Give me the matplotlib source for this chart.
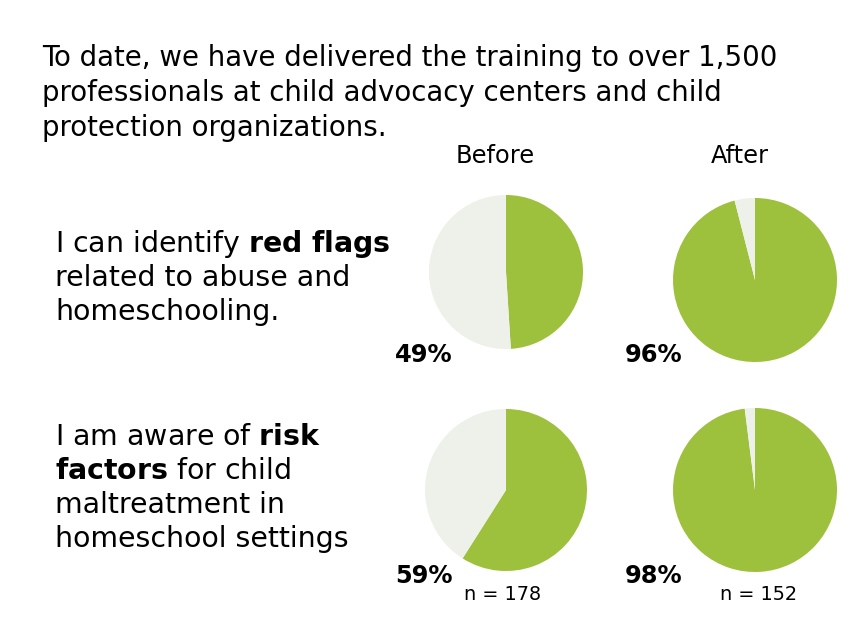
import matplotlib.pyplot as plt

# data
title_lines = ["To date, we have delivered the training to over 1,500",
               "professionals at child advocacy centers and child",
               "protection organizations."]
question_lines = [
    [r"I can identify $\mathbf{red\ flags}$", "related to abuse and", "homeschooling."],
    [r"I am aware of $\mathbf{risk}$", r"$\mathbf{factors}$ for child",
     "maltreatment in", "homeschool settings"],
]
before_pct = [49, 59]
after_pct = [96, 98]
n_counts = [178, 152]
col_labels = ["Before", "After"]

GREEN = "#9dc13c"
GRAY = "#eef0ea"

W, H = 867, 620
plt.rcParams['font.family'] = ['DejaVu Sans']
plt.rcParams['mathtext.fontset'] = 'dejavusans'

fig = plt.figure(figsize=(W / 100, H / 100), dpi=100)
fig.patch.set_facecolor("white")
renderer = fig.canvas.get_renderer()


def put(x, y, s, **kw):
    kw.setdefault("va", "baseline")
    return fig.text(x / W, 1 - y / H, s, **kw)


def fit_size(s, target_w, base=20, **kw):
    t = fig.text(0, 0, s, fontsize=base, **kw)
    w = t.get_window_extent(renderer).width
    t.remove()
    return base * target_w / w


# title block
fs_title = fit_size(title_lines[0], 736)
for i, line in enumerate(title_lines):
    put(42, 66 + 35 * i, line, fontsize=fs_title, color="black")

# question blocks
fs_q = fit_size(question_lines[1][3], 293)
q_base = [252, 445]
for q, lines in enumerate(question_lines):
    for i, line in enumerate(lines):
        put(55, q_base[q] + 34 * i, line, fontsize=fs_q, color="black")

# column headers
put(495, 163, col_labels[0], fontsize=fs_q * 0.85, ha="center")
put(740, 163, col_labels[1], fontsize=fs_q * 0.85, ha="center")

# pies: (cx, cy, r) in pixels
pie_geo = {
    (0, 0): (506, 272, 77), (0, 1): (755, 280, 82),
    (1, 0): (506, 490, 81), (1, 1): (755, 490, 82),
}
pct_pos = {(0, 0): (395, 362), (0, 1): (625, 362),
           (1, 0): (395, 583), (1, 1): (625, 583)}

for q in range(2):
    for c, vals in enumerate([before_pct, after_pct]):
        v = vals[q]
        cx, cy, r = pie_geo[(q, c)]
        ax = fig.add_axes([(cx - r) / W, 1 - (cy + r) / H, 2 * r / W, 2 * r / H])
        ax.pie([v, 100 - v], colors=[GREEN, GRAY], startangle=90,
               counterclock=False, wedgeprops=dict(linewidth=0))
        ax.set_xlim(-1, 1)
        ax.set_ylim(-1, 1)
        ax.axis("off")
        px, py = pct_pos[(q, c)]
        put(px, py, f"{v}%", fontsize=fs_q * 0.85, fontweight="bold")

# sample sizes
put(503, 600, f"n = {n_counts[0]}", fontsize=fs_q * 0.68, ha="center")
put(758, 600, f"n = {n_counts[1]}", fontsize=fs_q * 0.68, ha="center")

fig.savefig("out.png", dpi=100, facecolor="white")
